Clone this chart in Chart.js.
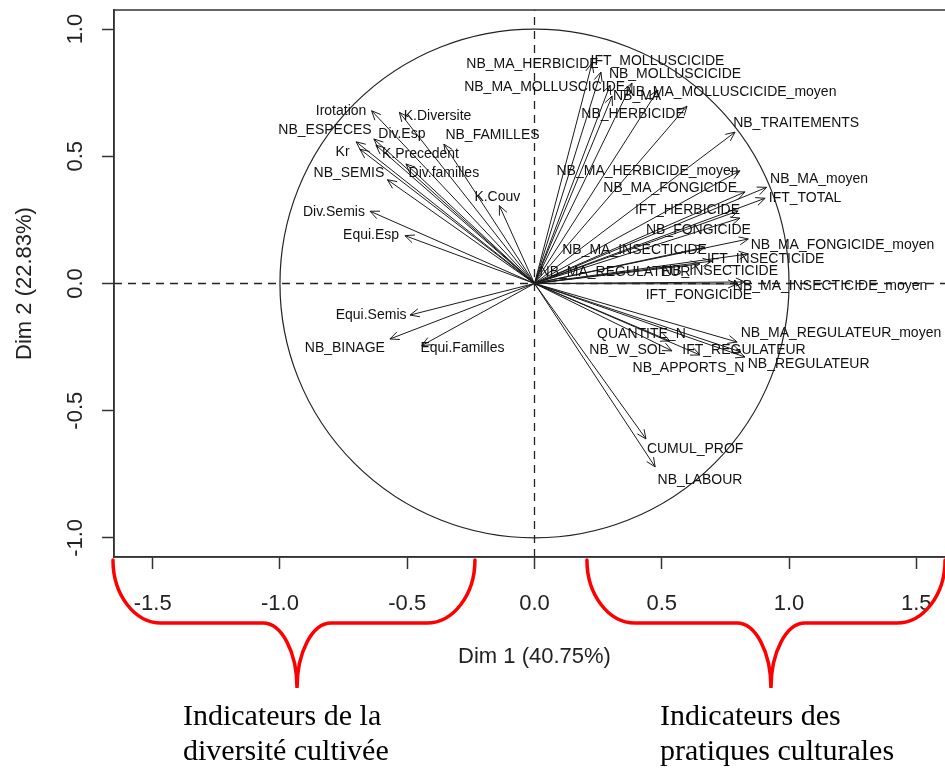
<!DOCTYPE html>
<html lang="fr">
<head>
<meta charset="UTF-8">
<title>ACP - cercle des corrélations</title>
<script src="https://cdn.jsdelivr.net/npm/chart.js@4.4.1/dist/chart.umd.min.js"></script>
<style>
    html, body { margin: 0; padding: 0; background: #fff; overflow: hidden; }
    #wrap { position: relative; width: 960px; height: 775px; }
</style>
</head>
<body>
<div id="wrap"><canvas id="pca" width="960" height="775"></canvas></div>
<script>
// variables of the PCA, coordinates on Dim 1 and Dim 2
const varNames = [
    'Irotation', 'K.Diversite', 'NB_ESPECES', 'Div.Esp', 'K.Precedent', 'NB_FAMILLES', 'Kr',
    'NB_SEMIS', 'Div.familles', 'K.Couv', 'Div.Semis', 'Equi.Esp', 'Equi.Semis', 'NB_BINAGE',
    'Equi.Familles', 'NB_MA_HERBICIDE', 'IFT_MOLLUSCICIDE', 'NB_MOLLUSCICIDE', 'NB_MA_MOLLUSCICIDE',
    'NB_MA', 'NB_MA_MOLLUSCICIDE_moyen', 'NB_HERBICIDE', 'NB_TRAITEMENTS', 'NB_MA_HERBICIDE_moyen',
    'NB_MA_moyen', 'IFT_TOTAL', 'NB_MA_FONGICIDE', 'IFT_HERBICIDE', 'NB_FONGICIDE',
    'NB_MA_FONGICIDE_moyen', 'NB_MA_INSECTICIDE', 'IFT_INSECTICIDE', 'NB_MA_REGULATEUR',
    'NB_INSECTICIDE', 'NB_MA_INSECTICIDE_moyen', 'IFT_FONGICIDE', 'NB_MA_REGULATEUR_moyen',
    'QUANTITE_N', 'NB_W_SOL', 'IFT_REGULATEUR', 'NB_APPORTS_N', 'NB_REGULATEUR', 'CUMUL_PROF',
    'NB_LABOUR'
];
const dim1 = [
    -0.640, -0.531, -0.701, -0.631, -0.623, -0.356, -0.686,
    -0.578, -0.505, -0.138, -0.646, -0.509, -0.489, -0.568,
    -0.443, 0.226, 0.261, 0.383, 0.297,
    0.485, 0.599, 0.305, 0.788, 0.807,
    0.912, 0.906, 0.827, 0.800, 0.807,
    0.840, 0.670, 0.839, 0.650,
    0.697, 0.796, 0.827, 0.796,
    0.532, 0.540, 0.811, 0.650, 0.827, 0.438,
    0.474
];
const dim2 = [
    0.679, 0.673, 0.557, 0.568, 0.544, 0.548, 0.528,
    0.408, 0.470, 0.306, 0.284, 0.188, -0.124, -0.218,
    -0.244, 0.866, 0.831, 0.788, 0.780,
    0.760, 0.697, 0.737, 0.595, 0.443,
    0.378, 0.335, 0.360, 0.285, 0.257,
    0.175, 0.143, 0.116, 0.077,
    0.088, -0.002, 0.006, -0.230,
    -0.226, -0.265, -0.269, -0.281, -0.289, -0.611,
    -0.721
];
// where the labels were put (autoLab), in the same units
const labelDim1 = [
    -0.760, -0.381, -0.823, -0.521, -0.448, -0.165, -0.754,
    -0.729, -0.356, -0.146, -0.788, -0.642, -0.642, -0.745,
    -0.283, -0.008, 0.483, 0.552, 0.040,
    0.403, 0.772, 0.387, 1.028, 0.444,
    1.118, 1.063, 0.533, 0.601, 0.644,
    1.210, 0.393, 0.908, 0.316,
    0.729, 1.161, 0.646, 1.204,
    0.420, 0.365, 0.823, 0.605, 1.077, 0.631,
    0.650
];
const labelDim2 = [
    0.678, 0.659, 0.603, 0.587, 0.509, 0.583, 0.517,
    0.434, 0.434, 0.339, 0.280, 0.191, -0.124, -0.255,
    -0.255, 0.862, 0.874, 0.823, 0.772,
    0.737, 0.752, 0.666, 0.631, 0.443,
    0.411, 0.336, 0.375, 0.289, 0.210,
    0.151, 0.132, 0.096, 0.045,
    0.047, -0.010, -0.045, -0.195,
    -0.198, -0.261, -0.261, -0.332, -0.316, -0.650,
    -0.772
];
const xTicks = [-1.5, -1.0, -0.5, 0.0, 0.5, 1.0, 1.5];
const yTicks = [-1.0, -0.5, 0.0, 0.5, 1.0];
const xLim = [-1.652, 1.652];
const yLim = [-1.075, 1.075];

Chart.defaults.font.family = '"Liberation Sans", Arial, sans-serif';
Chart.defaults.color = '#222';

// circle, arrow heads, variable labels, box and the red braces
const pcaDecor = {
    id: 'pcaDecor',
    beforeDatasetsDraw(chart) {
        const {ctx, chartArea: a, scales: {x, y}} = chart;
        const cx = x.getPixelForValue(0), cy = y.getPixelForValue(0);
        ctx.save();
        ctx.beginPath();
        ctx.rect(a.left, a.top, a.right - a.left, a.bottom - a.top);
        ctx.clip();
        ctx.beginPath();
        ctx.ellipse(cx, cy, x.getPixelForValue(1) - cx, cy - y.getPixelForValue(1), 0, 0, Math.PI * 2);
        ctx.strokeStyle = '#222';
        ctx.lineWidth = 1.2;
        ctx.stroke();
        ctx.restore();
    },
    afterDatasetsDraw(chart) {
        const {ctx, scales: {x, y}} = chart;
        const cx = x.getPixelForValue(0), cy = y.getPixelForValue(0);
        ctx.save();
        ctx.strokeStyle = '#1a1a1a';
        ctx.lineWidth = 1;
        varNames.forEach((n, i) => {
            const px = x.getPixelForValue(dim1[i]), py = y.getPixelForValue(dim2[i]);
            const ang = Math.atan2(py - cy, px - cx);
            ctx.beginPath();
            for (const s of [-1, 1]) {
                const b = ang + Math.PI + s * 0.42;
                ctx.moveTo(px, py);
                ctx.lineTo(px + 10 * Math.cos(b), py + 10 * Math.sin(b));
            }
            ctx.stroke();
        });
        ctx.font = '14px "Liberation Sans", Arial, sans-serif';
        ctx.fillStyle = '#111';
        ctx.textAlign = 'center';
        ctx.textBaseline = 'middle';
        varNames.forEach((n, i) => {
            ctx.fillText(n, x.getPixelForValue(labelDim1[i]), y.getPixelForValue(labelDim2[i]));
        });
        ctx.restore();
    },
    afterDraw(chart, args, opts) {
        const {ctx, chartArea: a, scales: {x}} = chart;
        ctx.save();
        ctx.strokeStyle = '#333';
        ctx.lineWidth = 1.5;
        ctx.strokeRect(a.left, a.top, a.right - a.left, a.bottom - a.top);

        // braces under the x axis
        const yTop = a.bottom + 3, yMid = a.bottom + 66, yBot = a.bottom + 131;
        const k = 0.55;
        ctx.strokeStyle = '#ff0000';
        ctx.lineWidth = 3.5;
        ctx.lineCap = 'round';
        opts.braces.forEach(br => {
            const x0 = x.getPixelForValue(br.from), x1 = x.getPixelForValue(br.to);
            const xm = x.getPixelForValue(br.tip);
            const arm = 48, cusp = 34;
            ctx.beginPath();
            ctx.moveTo(x0, yTop);
            ctx.bezierCurveTo(x0, yTop + k * (yMid - yTop), x0 + arm * (1 - k), yMid, x0 + arm, yMid);
            ctx.lineTo(xm - cusp, yMid);
            ctx.bezierCurveTo(xm - cusp * (1 - k), yMid, xm, yBot - k * (yBot - yMid), xm, yBot);
            ctx.bezierCurveTo(xm, yBot - k * (yBot - yMid), xm + cusp * (1 - k), yMid, xm + cusp, yMid);
            ctx.lineTo(x1 - arm, yMid);
            ctx.bezierCurveTo(x1 - arm * (1 - k), yMid, x1, yTop + k * (yMid - yTop), x1, yTop);
            ctx.stroke();
        });

        ctx.font = '30px "Liberation Serif", "Times New Roman", serif';
        ctx.fillStyle = '#000';
        ctx.textAlign = 'left';
        ctx.textBaseline = 'middle';
        opts.notes.forEach(nt => {
            nt.lines.forEach((t, j) => {
                ctx.fillText(t, x.getPixelForValue(nt.at), a.bottom + 160 + j * 35);
            });
        });
        ctx.restore();
    }
};

const datasets = [
    {
        data: [{x: xLim[0], y: 0}, {x: xLim[1], y: 0}],
        showLine: true, borderColor: '#222', borderWidth: 1.3, borderDash: [8, 6], pointRadius: 0
    },
    {
        data: [{x: 0, y: yLim[0]}, {x: 0, y: yLim[1]}],
        showLine: true, borderColor: '#222', borderWidth: 1.3, borderDash: [8, 6], pointRadius: 0
    }
].concat(varNames.map((n, i) => ({
    label: n,
    data: [{x: 0, y: 0}, {x: dim1[i], y: dim2[i]}],
    showLine: true,
    borderColor: '#1a1a1a',
    borderWidth: 1,
    pointRadius: 0
})));

new Chart(document.getElementById('pca'), {
    type: 'scatter',
    data: { datasets: datasets },
    plugins: [pcaDecor],
    options: {
        responsive: false,
        animation: false,
        events: [],
        layout: { padding: { top: 10, right: 5, bottom: 0, left: 0 } },
        plugins: {
            legend: { display: false },
            tooltip: { enabled: false },
            pcaDecor: {
                braces: [
                    { from: -1.656, tip: -0.933, to: -0.234 },
                    { from: 0.206, tip: 0.929, to: 1.613 }
                ],
                notes: [
                    { at: -1.381, lines: ['Indicateurs de la', 'diversité cultivée'] },
                    { at: 0.493, lines: ['Indicateurs des', 'pratiques culturales'] }
                ]
            }
        },
        scales: {
            x: {
                type: 'linear',
                min: xLim[0],
                max: xLim[1],
                afterFit: s => { s.height = 218; s.paddingLeft = 0; s.paddingRight = 0; },
                afterBuildTicks: s => { s.ticks = xTicks.map(v => ({ value: v })); },
                grid: { drawOnChartArea: false, drawTicks: true, tickLength: 12, tickColor: '#333', tickWidth: 1.5 },
                border: { display: true, color: '#333', width: 1.5 },
                ticks: { padding: 22, font: { size: 22 }, color: '#222', maxRotation: 0, callback: v => v.toFixed(1) },
                title: { display: true, text: 'Dim 1 (40.75%)', font: { size: 22 }, color: '#222', padding: { bottom: 105 } }
            },
            y: {
                type: 'linear',
                min: yLim[0],
                max: yLim[1],
                afterFit: s => { s.width = 114; s.paddingTop = 0; s.paddingBottom = 0; },
                afterBuildTicks: s => { s.ticks = yTicks.map(v => ({ value: v })); },
                grid: { drawOnChartArea: false, drawTicks: true, tickLength: 12, tickColor: '#333', tickWidth: 1.5 },
                border: { display: true, color: '#333', width: 1.5 },
                ticks: { padding: 7, font: { size: 22 }, color: '#222', minRotation: 90, maxRotation: 90, crossAlign: 'center', callback: v => v.toFixed(1) },
                title: { display: true, text: 'Dim 2 (22.83%)', font: { size: 22 }, color: '#222', padding: { top: 12 } }
            }
        }
    }
});
</script>
</body>
</html>
